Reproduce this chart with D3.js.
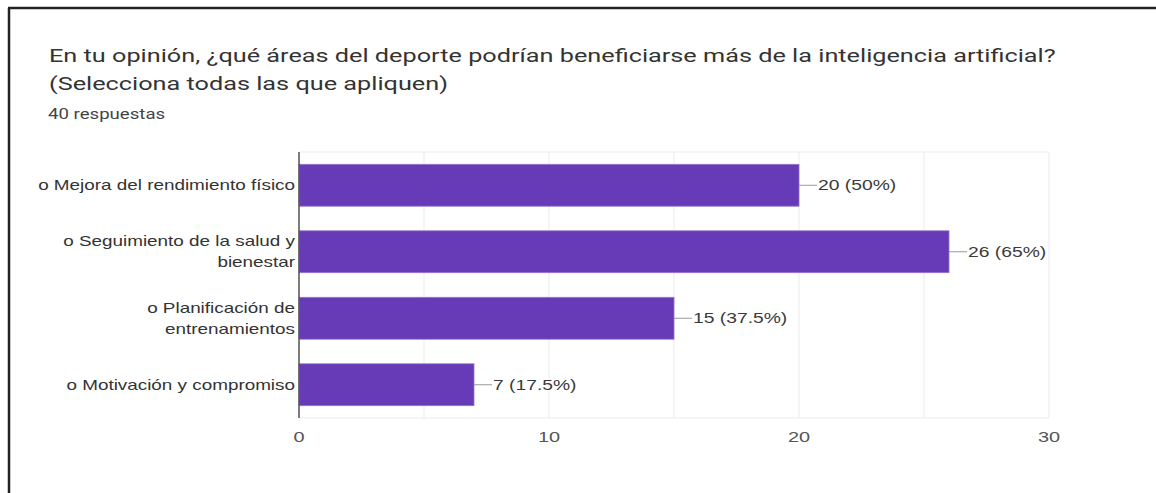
<!DOCTYPE html>
<html>
<head>
<meta charset="utf-8">
<script src="https://cdn.jsdelivr.net/npm/d3@7"></script>
<style>
  html, body { margin: 0; padding: 0; background: #fff; }
  svg { display: block; }
</style>
</head>
<body>
<script>
// Survey question, answers and counts
const titleLines = [
  "En tu opinión, ¿qué áreas del deporte podrían beneficiarse más de la inteligencia artificial?",
  "(Selecciona todas las que apliquen)"
];
const responsesText = "40 respuestas";
const totalResponses = 40;
const categories = [
  ["o Mejora del rendimiento físico"],
  ["o Seguimiento de la salud y", "bienestar"],
  ["o Planificación de", "entrenamientos"],
  ["o Motivación y compromiso"]
];
const counts = [20, 26, 15, 7];
const xTicks = [0, 10, 20, 30];
const gridTicks = [0, 5, 10, 15, 20, 25, 30];

const W = 1156, H = 493;
const SX = 1.33; // horizontal stretch of the whole text layer
const svg = d3.select("body").append("svg").attr("width", W).attr("height", H);

// Places a text at (x, y) widened horizontally by SX
function label(parent, x, y, str, opts) {
  return parent.append("text")
    .attr("transform", `translate(${x},${y}) scale(${SX},1)`)
    .attr("text-anchor", opts.anchor || "start")
    .attr("font-family", opts.family)
    .attr("font-size", opts.size)
    .attr("fill", opts.fill)
    .text(str);
}

// Frame edges (top and left)
svg.append("line").attr("x1", 8).attr("x2", W).attr("y1", 8).attr("y2", 8)
  .attr("stroke", "#222").attr("stroke-width", 2.5);
svg.append("line").attr("x1", 9).attr("x2", 9).attr("y1", 8).attr("y2", H)
  .attr("stroke", "#222").attr("stroke-width", 2.5);

// Header
const headFont = "Roboto, 'Noto Sans', sans-serif";
titleLines.forEach((s, i) =>
  label(svg, 49, 62 + i * 28, s, { family: headFont, size: 19, fill: "#333" }));
label(svg, 48, 119, responsesText, { family: headFont, size: 14, fill: "#444" });

// Plot area
const plotLeft = 299, plotRight = 1049, plotTop = 152, plotBottom = 418;
const x = d3.scaleLinear().domain([0, 30]).range([plotLeft, plotRight]);
const y = d3.scaleBand().domain(d3.range(categories.length)).range([plotTop, plotBottom])
  .paddingInner(0.37).paddingOuter(0.185);

const font = "'Liberation Sans', Arial, sans-serif";

// Vertical gridlines
svg.append("g").selectAll("line").data(gridTicks).join("line")
  .attr("x1", d => x(d)).attr("x2", d => x(d))
  .attr("y1", plotTop).attr("y2", plotBottom)
  .attr("stroke", "#ebebeb").attr("stroke-width", 1);
// Top and bottom edges of the plot area
[plotTop, plotBottom].forEach(yy => {
  svg.append("line").attr("x1", plotLeft).attr("x2", plotRight).attr("y1", yy).attr("y2", yy)
    .attr("stroke", "#ebebeb").attr("stroke-width", 1);
});

// Bars
svg.append("g").selectAll("rect").data(counts).join("rect")
  .attr("x", x(0)).attr("y", (d, i) => y(i))
  .attr("width", d => x(d) - x(0)).attr("height", y.bandwidth())
  .attr("fill", "#673ab7").attr("stroke", "#9575cd").attr("stroke-width", 0.8);

// Value labels with leader lines
const vl = svg.append("g");
counts.forEach((d, i) => {
  const cy = y(i) + y.bandwidth() / 2;
  vl.append("line").attr("x1", x(d)).attr("x2", x(d) + 18).attr("y1", cy).attr("y2", cy)
    .attr("stroke", "#999").attr("stroke-width", 1);
  label(vl, x(d) + 19, cy + 5.2, `${d} (${+(d / totalResponses * 100).toFixed(1)}%)`,
    { family: font, size: 14.5, fill: "#3a3a3a" });
});

// Category axis line
svg.append("line").attr("x1", plotLeft).attr("x2", plotLeft).attr("y1", plotTop).attr("y2", plotBottom)
  .attr("stroke", "#555").attr("stroke-width", 1.5);

// Category labels
const cl = svg.append("g");
categories.forEach((lines, i) => {
  const cy = y(i) + y.bandwidth() / 2;
  const lh = 21;
  const y0 = cy + 5.2 - (lines.length - 1) * lh / 2;
  lines.forEach((s, j) =>
    label(cl, 295, y0 + j * lh, s, { family: font, size: 14.2, fill: "#333", anchor: "end" }));
});

// Value axis tick labels
const tl = svg.append("g");
xTicks.forEach(d =>
  label(tl, x(d), 442, d, { family: font, size: 15, fill: "#555", anchor: "middle" }));
</script>
</body>
</html>
